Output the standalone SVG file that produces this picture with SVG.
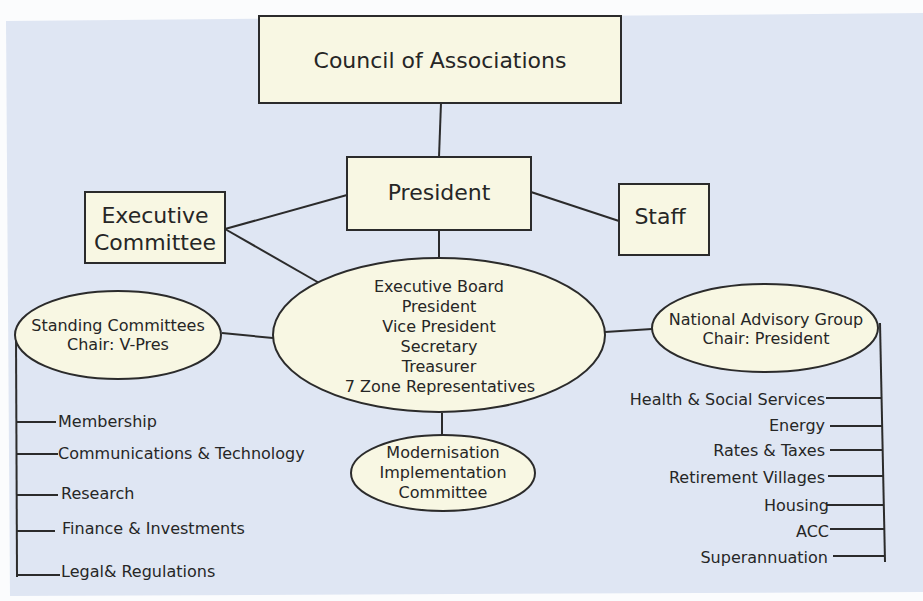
<svg xmlns="http://www.w3.org/2000/svg" width="923" height="601" viewBox="0 0 923 601">
  <style>
    .box { fill: #f8f7e3; stroke: #2b2b2b; stroke-width: 2; }
    .link { fill: none; stroke: #2b2b2b; stroke-width: 2; }
    .t { font-family: "DejaVu Sans", "Noto Sans", sans-serif; fill: #262626; }
    .big { font-size: 22px; text-anchor: middle; }
    .mid { font-size: 16px; text-anchor: middle; }
    .lst { font-size: 16px; }
    .rl { font-size: 16px; text-anchor: end; }
  </style>

  <!-- paper -->
  <rect x="0" y="0" width="923" height="601" fill="#fbfcfd"/>
  <polygon points="6,21 923,13 923,592 10,596" fill="#dfe6f3"/>

  <!-- connectors -->
  <g id="connectors">
    <line class="link" x1="441" y1="103" x2="439" y2="157"/>
    <line class="link" x1="347" y1="195" x2="225" y2="229"/>
    <line class="link" x1="225" y1="229" x2="321" y2="284"/>
    <line class="link" x1="531" y1="192" x2="619" y2="221"/>
    <line class="link" x1="439" y1="230" x2="439" y2="258"/>
    <line class="link" x1="222" y1="333" x2="273" y2="338"/>
    <line class="link" x1="605" y1="332" x2="652" y2="329"/>
    <line class="link" x1="442" y1="413" x2="442" y2="435"/>
    <!-- standing committees list -->
    <line class="link" x1="16" y1="335" x2="17" y2="577"/>
    <line class="link" x1="16" y1="422" x2="56" y2="422"/>
    <line class="link" x1="16" y1="454" x2="58" y2="454"/>
    <line class="link" x1="17" y1="495" x2="58" y2="495"/>
    <line class="link" x1="17" y1="531" x2="55" y2="531"/>
    <line class="link" x1="17" y1="575" x2="60" y2="575"/>
    <!-- advisory group list -->
    <line class="link" x1="880" y1="323" x2="885" y2="562"/>
    <line class="link" x1="826" y1="398" x2="881" y2="398"/>
    <line class="link" x1="830" y1="426" x2="882" y2="426"/>
    <line class="link" x1="830" y1="450" x2="883" y2="450"/>
    <line class="link" x1="828" y1="476" x2="883" y2="476"/>
    <line class="link" x1="827" y1="505" x2="884" y2="505"/>
    <line class="link" x1="830" y1="529" x2="884" y2="529"/>
    <line class="link" x1="833" y1="556" x2="885" y2="556"/>
  </g>

  <g id="council">
    <rect class="box" x="259" y="16" width="362" height="87"/>
    <text class="t big" x="440" y="68">Council of Associations</text>
  </g>

  <g id="president">
    <rect class="box" x="347" y="157" width="184" height="73"/>
    <text class="t big" x="439" y="200">President</text>
  </g>

  <g id="executive-committee">
    <rect class="box" x="85" y="192" width="140" height="71"/>
    <text class="t big" x="155" y="223">Executive</text>
    <text class="t big" x="155" y="250">Committee</text>
  </g>

  <g id="staff">
    <rect class="box" x="619" y="184" width="90" height="71"/>
    <text class="t big" x="660" y="224">Staff</text>
  </g>

  <g id="executive-board">
    <ellipse class="box" cx="439" cy="335" rx="166" ry="77"/>
    <text class="t mid" x="439" y="292">Executive Board</text>
    <text class="t mid" x="439" y="312">President</text>
    <text class="t mid" x="439" y="332">Vice President</text>
    <text class="t mid" x="439" y="352">Secretary</text>
    <text class="t mid" x="439" y="372">Treasurer</text>
    <text class="t mid" x="440" y="392">7 Zone Representatives</text>
  </g>

  <g id="standing-committees">
    <ellipse class="box" cx="118" cy="335" rx="103" ry="44"/>
    <text class="t mid" x="118" y="331">Standing Committees</text>
    <text class="t mid" x="118" y="350">Chair: V-Pres</text>
  </g>

  <g id="modernisation">
    <ellipse class="box" cx="443" cy="473" rx="92" ry="38"/>
    <text class="t mid" x="443" y="458">Modernisation</text>
    <text class="t mid" x="443" y="478">Implementation</text>
    <text class="t mid" x="443" y="498">Committee</text>
  </g>

  <g id="national-advisory-group">
    <ellipse class="box" cx="765" cy="328" rx="113" ry="44"/>
    <text class="t mid" x="766" y="325">National Advisory Group</text>
    <text class="t mid" x="766" y="344">Chair: President</text>
  </g>

  <g id="standing-list">
    <text class="t lst" x="58" y="427">Membership</text>
    <text class="t lst" x="58" y="459">Communications &amp; Technology</text>
    <text class="t lst" x="61" y="499">Research</text>
    <text class="t lst" x="62" y="534">Finance &amp; Investments</text>
    <text class="t lst" x="61" y="577">Legal&amp; Regulations</text>
  </g>

  <g id="advisory-list">
    <text class="t rl" x="825" y="405">Health &amp; Social Services</text>
    <text class="t rl" x="825" y="431">Energy</text>
    <text class="t rl" x="825" y="456">Rates &amp; Taxes</text>
    <text class="t rl" x="825" y="483">Retirement Villages</text>
    <text class="t rl" x="829" y="511">Housing</text>
    <text class="t rl" x="829" y="537">ACC</text>
    <text class="t rl" x="828" y="563">Superannuation</text>
  </g>
</svg>
